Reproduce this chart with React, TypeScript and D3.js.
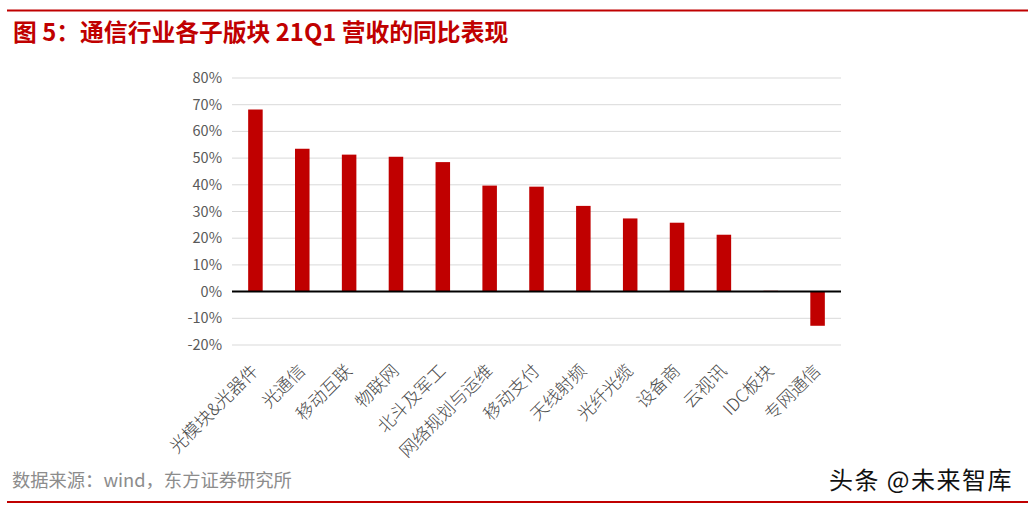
import React from "react";
import * as d3 from "d3";

const categories = ["光模块&光器件", "光通信", "移动互联", "物联网", "北斗及军工", "网络规划与运维", "移动支付", "天线射频", "光纤光缆", "设备商", "云视讯", "IDC板块", "专网通信"];
const values = [68.2, 53.5, 51.3, 50.5, 48.5, 39.7, 39.3, 32.1, 27.4, 25.8, 21.3, 0.3, -12.8];
const yTicks = [-20, -10, 0, 10, 20, 30, 40, 50, 60, 70, 80];
const title = "图 5：通信行业各子版块 21Q1 营收的同比表现";
const source = "数据来源：wind，东方证券研究所";
const watermark = "头条 @未来智库";

const W = 1028, H = 507;
const FONT = "'Noto Sans CJK SC', 'Noto Sans', sans-serif";

export default function App() {
  const x = d3.scaleBand<string>().domain(categories).range([232, 841]).paddingInner(0.69).paddingOuter(0.345);
  const y = d3.scaleLinear().domain([-20, 80]).range([345, 78]);
  return (
    <svg width={W} height={H} style={{ position: "absolute", left: 0, top: 0, background: "#fff" }} fontFamily={FONT}>
      <rect width={W} height={H} fill="#fff" />
      <line x1={7} x2={W} y1={10.5} y2={10.5} stroke="#c00000" strokeWidth={2} />
      <text x={13} y={41} fontSize={23.8} fontWeight="bold" fill="#c00000">{title}</text>
      {yTicks.map(t => (
        <g key={t}>
          {t !== 0 && <line x1={232} x2={841} y1={y(t)} y2={y(t)} stroke="#d9d9d9" strokeWidth={1} />}
          <text x={222} y={y(t)} dy="0.35em" textAnchor="end" fontSize={14.5} fill="#595959">{`${t}%`}</text>
        </g>
      ))}
      {categories.map((c, i) => (
        <rect key={c} x={x(c)} width={x.bandwidth()} y={y(Math.max(0, values[i]))} height={Math.abs(y(values[i]) - y(0))} fill="#c00000" />
      ))}
      <line x1={232} x2={841} y1={y(0)} y2={y(0)} stroke="#000" strokeWidth={2} />
      {categories.map(c => {
        const cx = (x(c) as number) + x.bandwidth() / 2 + 4;
        const cy = 372;
        return (
          <text key={c} transform={`translate(${cx},${cy}) rotate(-45)`} textAnchor="end" fontSize={17.5} fontWeight={300} fill="#4a4a4a">{c}</text>
        );
      })}
      <text x={12} y={487} fontSize={18.3} fill="#8c8c8c">{source}</text>
      <text x={1013} y={489} textAnchor="end" fontSize={24} letterSpacing={1.5} fill="#111">{watermark}</text>
      <line x1={7} x2={W} y1={502} y2={502} stroke="#c00000" strokeWidth={2} />
    </svg>
  );
}
